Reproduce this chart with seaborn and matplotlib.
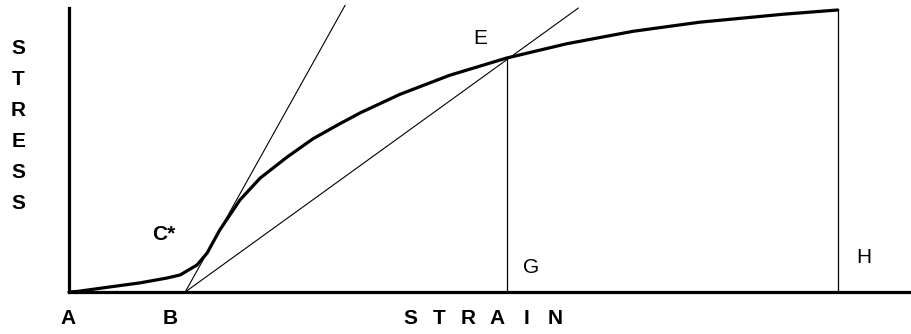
import numpy as np
import pandas as pd
import matplotlib
matplotlib.use("Agg")
import matplotlib.pyplot as plt
import seaborn as sns

# stress-strain curve (strain 0-100, stress 0-100)
strain = [0.0, 1.0, 4.9, 8.4, 11.6, 13.2, 15.2, 16.4, 17.9, 20.3, 22.7, 25.9,
          29.0, 32.2, 34.6, 39.3, 45.2, 52.0, 59.1, 67.0, 74.9, 84.8, 91.3]
stress = [0.0, 0.2, 1.8, 3.2, 4.9, 6.0, 9.5, 13.7, 21.8, 32.4, 40.1, 47.5,
          54.0, 59.3, 63.1, 69.6, 76.3, 82.4, 87.4, 91.8, 95.0, 97.8, 99.3]

# construction lines from B
b_strain = 13.8
tangent_strain = [b_strain, 32.8]
tangent_stress = [0.0, 101.0]
secant_strain = [b_strain, 60.5]
secant_stress = [0.0, 100.0]

# points E and H on the curve
e_strain, e_stress = 52.0, 82.4
h_strain, h_stress = 91.3, 99.3

sns.set_theme(style="white")
plt.rcParams['font.family'] = ['Liberation Sans', 'DejaVu Sans']

fig = plt.figure(figsize=(9.11, 3.34), dpi=100)
ax = fig.add_axes([69 / 911, 42 / 334, 842 / 911, 284 / 334])

curve = pd.DataFrame({'strain': strain, 'stress': stress})
sns.lineplot(data=curve, x='strain', y='stress', sort=False, color='black',
             linewidth=2.3, ax=ax)
sns.lineplot(x=tangent_strain, y=tangent_stress, color='black', linewidth=0.8,
             ax=ax)
sns.lineplot(x=secant_strain, y=secant_stress, color='black', linewidth=0.8,
             ax=ax)
for ln in ax.lines:
    ln.set_clip_on(False)
    ln.set_solid_joinstyle('round')

ax.vlines([e_strain, h_strain], 0, [e_stress, h_stress], color='black',
          linewidth=0.9)

ax.set_xlim(0, 100)
ax.set_ylim(0, 100)
ax.set_xticks([])
ax.set_yticks([])
ax.set_xlabel('')
ax.set_ylabel('')
for side in ['top', 'right']:
    ax.spines[side].set_visible(False)
for side in ['left', 'bottom']:
    ax.spines[side].set_color('black')
    ax.spines[side].set_linewidth(2.3)

lab = dict(fontsize=15, ha='center', va='center', color='black', clip_on=False)
ax.text(-0.1, -9.2, 'A', fontweight='bold', **lab)
ax.text(12.0, -9.2, 'B', fontweight='bold', **lab)
ax.text(11.3, 20.1, 'C*', fontweight='bold', **lab)
ax.text(48.9, 89.1, 'E', **lab)
ax.text(54.9, 8.5, 'G', **lab)
ax.text(94.4, 12.3, 'H', **lab)

# spaced-out axis words
for i, ch in enumerate('STRESS'):
    ax.text(-6.0, 85.6 - i * 10.9, ch, fontweight='bold', **lab)
for i, ch in enumerate('STRAIN'):
    ax.text(40.5 + i * 3.45, -9.5, ch, fontweight='bold', **lab)

fig.savefig('out.png', dpi=100)
